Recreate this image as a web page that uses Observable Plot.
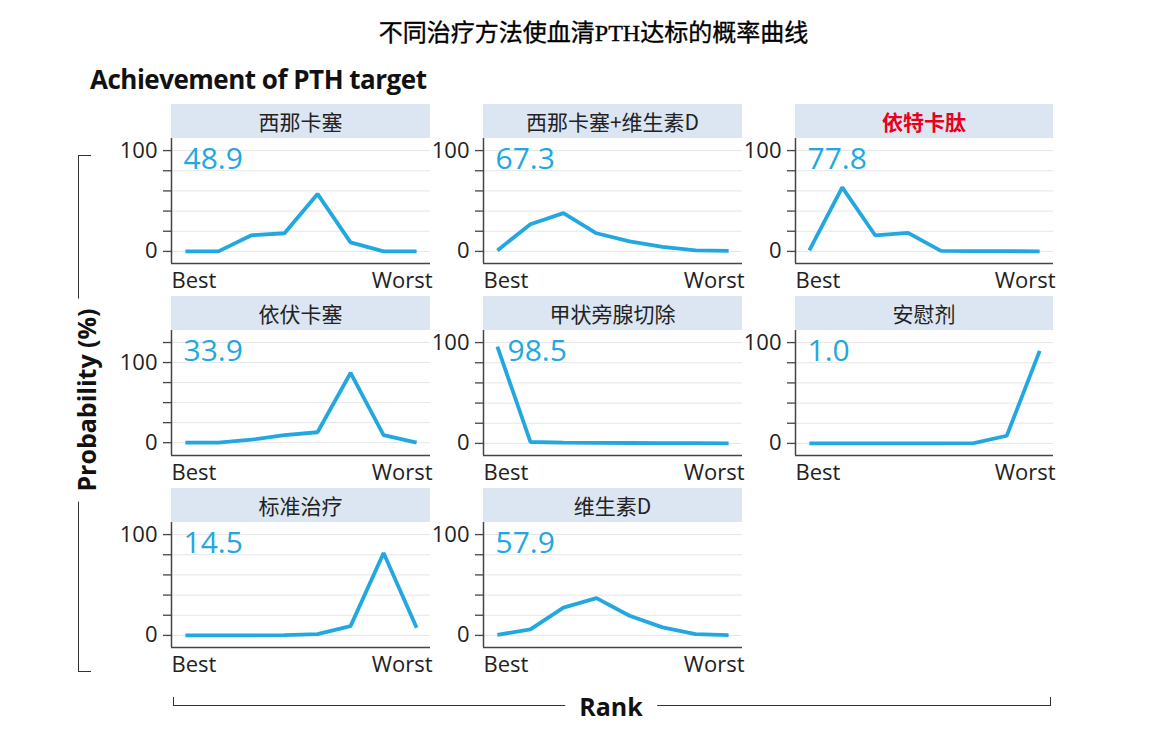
<!DOCTYPE html>
<html>
<head>
<meta charset="utf-8">
<script src="https://cdn.jsdelivr.net/npm/d3@7"></script>
<script src="https://cdn.jsdelivr.net/npm/@observablehq/plot@0.6"></script>
<style>
  html, body { margin: 0; padding: 0; background: #fff; }
  #root { position: relative; width: 1167px; height: 744px; overflow: hidden; background: #fff; }
  .abs { position: absolute; }
  .title { left: 0; width: 1187px; top: 13px; text-align: center; font-family: "Liberation Serif", "Noto Sans CJK SC", serif; font-size: 24px; font-weight: 400; color: #000; -webkit-text-stroke: 0.35px #000; }
  .subtitle { left: 90px; top: 61px; font-family: "Open Sans", sans-serif; font-weight: 700; font-size: 26px; color: #111; letter-spacing: -0.5px; }
  .strip { background: #dce6f2; text-align: center; font-family: "Noto Sans CJK SC", sans-serif; font-size: 21px; color: #222; line-height: 34px; height: 34px; }
  .ybracket { border-left: 1.5px solid #333; border-top: 1.5px solid #333; border-bottom: 1.5px solid #333; width: 12px; }
  .xbracket { border-left: 1.5px solid #333; border-right: 1.5px solid #333; border-bottom: 1.5px solid #333; height: 8px; }
  .axlabel { font-family: "Open Sans", sans-serif; font-weight: 700; font-size: 25px; color: #111; background: #fff; white-space: nowrap; }
</style>
</head>
<body>
<div id="root"></div>
<script>
// ---------- data ----------
const chartTitle = "不同治疗方法使血清PTH达标的概率曲线";
const subTitle = "Achievement of PTH target";
const yAxisTitle = "Probability (%)";
const xAxisTitle = "Rank";
const treatments = ["西那卡塞", "西那卡塞+维生素D", "依特卡肽", "依伏卡塞", "甲状旁腺切除", "安慰剂", "标准治疗", "维生素D"];
const sucra = [48.9, 67.3, 77.8, 33.9, 98.5, 1.0, 14.5, 57.9];
const ranks = [1, 2, 3, 4, 5, 6, 7, 8];
const rankEndLabels = ["Best", "Worst"];
const yTickLabels = [0, 100];

const cinacalcet        = [0, 0, 16, 18, 57, 9, 0, 0];
const cinacalcetVitD    = [1, 27, 38, 18, 10, 4.5, 1, 0.5];
const etelcalcetide     = [1, 63.5, 16, 18.3, 0.5, 0.3, 0.2, 0];
const evocalcet         = [0, 0, 3.7, 9.5, 13, 87, 9.5, 0];
const parathyroidectomy = [96, 1.4, 0.8, 0.5, 0.4, 0.3, 0.2, 0];
const placebo           = [0, 0, 0, 0, 0, 0.2, 7.6, 91.8];
const standardCare      = [0, 0, 0, 0.3, 1.3, 9.2, 81.8, 7.6];
const vitaminD          = [0.5, 6, 27.5, 37, 19.5, 8, 1.2, 0.3];
const seriesList = [cinacalcet, cinacalcetVitD, etelcalcetide, evocalcet, parathyroidectomy, placebo, standardCare, vitaminD];

// ---------- layout (not data) ----------
const colX = [171, 483, 795];
const rowY = [104, 296, 488];
const plotW = [259, 259, 258];
const stripH = 34, plotH = 125;
const mL = 58, mR = 14, mB = 36;
const blue = "#22a8df";
const normalY = {domain: [-12, 112], ticks: [0, 20, 40, 60, 80, 100]};
const evoY = {domain: [-16, 140], ticks: [0, 25, 50, 75, 100, 125]};
const yCfg = [normalY, normalY, normalY, evoY, normalY, normalY, normalY, normalY];
const labelDx = [12, 12, 12, 12, 24, 12, 12, 12];
const highlight = 2;
const xDomain = [0.58, 8.42];

const root = document.getElementById("root");
function addDiv(cls, text, style) {
  const d = document.createElement("div");
  d.className = "abs " + cls;
  if (text != null) d.textContent = text;
  Object.assign(d.style, style || {});
  root.appendChild(d);
  return d;
}

addDiv("title", chartTitle);
addDiv("subtitle", subTitle);

treatments.forEach((name, i) => {
  const c = i % 3, r = Math.floor(i / 3);
  const left = colX[c], top = rowY[r], w = plotW[c];
  const strip = addDiv("strip", name, {left: left + "px", top: top + "px", width: w + "px"});
  if (i === highlight) { strip.style.color = "#e8001c"; strip.style.fontWeight = "700"; }

  const data = ranks.map((rk, j) => ({rank: rk, prob: seriesList[i][j]}));
  const yc = yCfg[i];
  const plot = Plot.plot({
    width: mL + w + mR,
    height: plotH + mB,
    marginLeft: mL, marginRight: mR, marginTop: 0, marginBottom: mB,
    style: {fontFamily: "'Open Sans', sans-serif", fontSize: "22px", color: "#333", background: "transparent", overflow: "visible"},
    x: {domain: xDomain, axis: null},
    y: {domain: yc.domain, axis: null},
    marks: [
      Plot.gridY(yc.ticks, {stroke: "#e6e6e6", strokeOpacity: 1, strokeWidth: 1}),
      Plot.axisY(yc.ticks, {tickSize: 8, tickPadding: 6, stroke: "#444", strokeWidth: 1.3, fill: "#222", fontSize: 22,
        tickFormat: d => yTickLabels.includes(d) ? String(d) : "", label: null}),
      Plot.ruleX([xDomain[0]], {stroke: "#444", strokeWidth: 1.5}),
      Plot.ruleY([yc.domain[0]], {stroke: "#444", strokeWidth: 1.5}),
      Plot.line(data, {x: "rank", y: "prob", stroke: blue, strokeWidth: 3.8, strokeLinejoin: "miter", strokeLinecap: "butt"}),
      Plot.text([sucra[i].toFixed(1)], {frameAnchor: "top-left", textAnchor: "start", lineAnchor: "top", dx: labelDx[i], dy: 9, fill: blue, fontSize: 30}),
      Plot.text([rankEndLabels[0]], {frameAnchor: "bottom-left", textAnchor: "start", lineAnchor: "top", dx: 0, dy: 9, fill: "#222", fontSize: 22}),
      Plot.text([rankEndLabels[1]], {frameAnchor: "bottom-right", textAnchor: "end", lineAnchor: "top", dx: 2, dy: 9, fill: "#222", fontSize: 22})
    ]
  });
  plot.style.position = "absolute";
  plot.style.left = (left - mL) + "px";
  plot.style.top = (top + stripH) + "px";
  root.appendChild(plot);
});

// brackets
addDiv("ybracket", null, {left: "78px", top: "155px", height: "515px"});
addDiv("axlabel", yAxisTitle, {left: "86px", top: "400px", transform: "translate(-50%,-50%) rotate(-90deg)", padding: "0 10px"});
addDiv("xbracket", null, {left: "173px", top: "697px", width: "876px"});
addDiv("axlabel", xAxisTitle, {left: "611px", top: "706px", transform: "translate(-50%,-50%)", padding: "0 14px"});
</script>
</body>
</html>
